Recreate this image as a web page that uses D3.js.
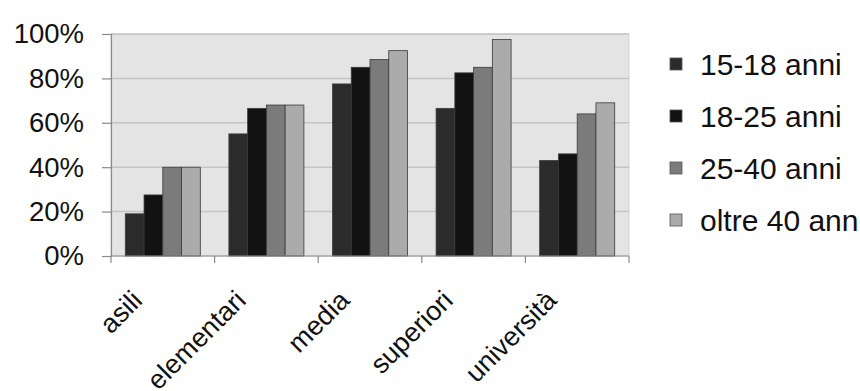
<!DOCTYPE html>
<html>
<head>
<meta charset="utf-8">
<script src="https://cdn.jsdelivr.net/npm/d3@7"></script>
<style>
  html, body { margin: 0; padding: 0; background: #fff; }
  svg { display: block; font-family: "Liberation Sans", Arial, sans-serif; }
</style>
</head>
<body>
<svg id="chart" width="860" height="391"></svg>
<script>
const categories = ["asili", "elementari", "media", "superiori", "università"];
const seriesNames = ["15-18 anni", "18-25 anni", "25-40 anni", "oltre 40 anni"];
const s1518 = [19, 55, 77.5, 66.5, 43];
const s1825 = [27.5, 66.5, 85, 82.5, 46];
const s2540 = [40, 68, 88.5, 85, 64];
const sOltre40 = [40, 68, 92.5, 97.5, 69];
const yTicks = [0, 20, 40, 60, 80, 100];
const seriesValues = [s1518, s1825, s2540, sOltre40];
const colors = ["#2b2b2b", "#121212", "#7b7b7b", "#ababab"];

const svg = d3.select("#chart");
const pLeft = 111, pRight = 629, pTop = 34, pBottom = 256;

const x0 = d3.scaleBand().domain(categories).range([pLeft, pRight])
  .paddingInner(0.276).paddingOuter(0.138);
const x1 = d3.scaleBand().domain(d3.range(seriesNames.length)).range([0, x0.bandwidth()]).padding(0);
const y = d3.scaleLinear().domain([0, 100]).range([pBottom, pTop]);

// plot background
svg.append("rect").attr("x", pLeft).attr("y", pTop).attr("width", pRight - pLeft).attr("height", pBottom - pTop)
  .attr("fill", "#e4e4e4").attr("stroke", "#d4d4d4").attr("stroke-width", 1);

// gridlines
svg.append("g").selectAll("line").data(yTicks.filter(d => d > 0)).join("line")
  .attr("x1", pLeft).attr("x2", pRight)
  .attr("y1", d => y(d)).attr("y2", d => y(d))
  .attr("stroke", "#c4c4c4").attr("stroke-width", 1.5);

// bars
const groups = svg.append("g").selectAll("g").data(categories).join("g")
  .attr("transform", d => `translate(${x0(d)},0)`);
groups.selectAll("rect").data((c, ci) => seriesValues.map((s, si) => ({si, v: s[ci]}))).join("rect")
  .attr("x", d => x1(d.si))
  .attr("width", x1.bandwidth())
  .attr("y", d => y(d.v))
  .attr("height", d => y(0) - y(d.v))
  .attr("fill", d => colors[d.si])
  .attr("stroke", "#3a3a3a").attr("stroke-width", 0.8);

// y axis
const yAxis = d3.axisLeft(y).tickValues(yTicks).tickFormat(d => d + "%").tickSize(9).tickPadding(18);
const gy = svg.append("g").attr("transform", `translate(${pLeft},0)`).call(yAxis);
gy.select(".domain").attr("stroke", "#8a8a8a").attr("stroke-width", 1.2);
gy.selectAll(".tick line").attr("stroke", "#8a8a8a").attr("stroke-width", 1.2);
gy.selectAll("text").attr("font-size", 27.5).attr("fill", "#111")
  .attr("font-family", "Liberation Sans, Arial, sans-serif");

// x axis: ticks at category boundaries
const step = x0.step();
const boundaries = d3.range(categories.length + 1).map(i => pLeft + i * step);
svg.append("line").attr("x1", pLeft).attr("x2", pRight).attr("y1", pBottom).attr("y2", pBottom)
  .attr("stroke", "#8a8a8a").attr("stroke-width", 1.2);
svg.append("g").selectAll("line").data(boundaries).join("line")
  .attr("x1", d => d).attr("x2", d => d).attr("y1", pBottom).attr("y2", pBottom + 7)
  .attr("stroke", "#8a8a8a").attr("stroke-width", 1.2);

// x labels
svg.append("g").selectAll("text").data(categories).join("text")
  .attr("transform", d => `translate(${x0(d) + x0.bandwidth() / 2 - 19},${pBottom + 46}) rotate(-45)`)
  .attr("text-anchor", "end")
  .attr("font-size", 27).attr("fill", "#111")
  .text(d => d);

// legend
const legend = svg.append("g").selectAll("g").data(seriesNames).join("g")
  .attr("transform", (d, i) => `translate(670,${64 + i * 52})`);
legend.append("rect").attr("x", 0).attr("y", -6).attr("width", 12).attr("height", 12)
  .attr("fill", (d, i) => colors[i]).attr("stroke", "#555").attr("stroke-width", 0.8);
legend.append("text").attr("x", 30).attr("y", 0).attr("dy", "0.35em")
  .attr("font-size", 30).attr("fill", "#111").text(d => d);
</script>
</body>
</html>
